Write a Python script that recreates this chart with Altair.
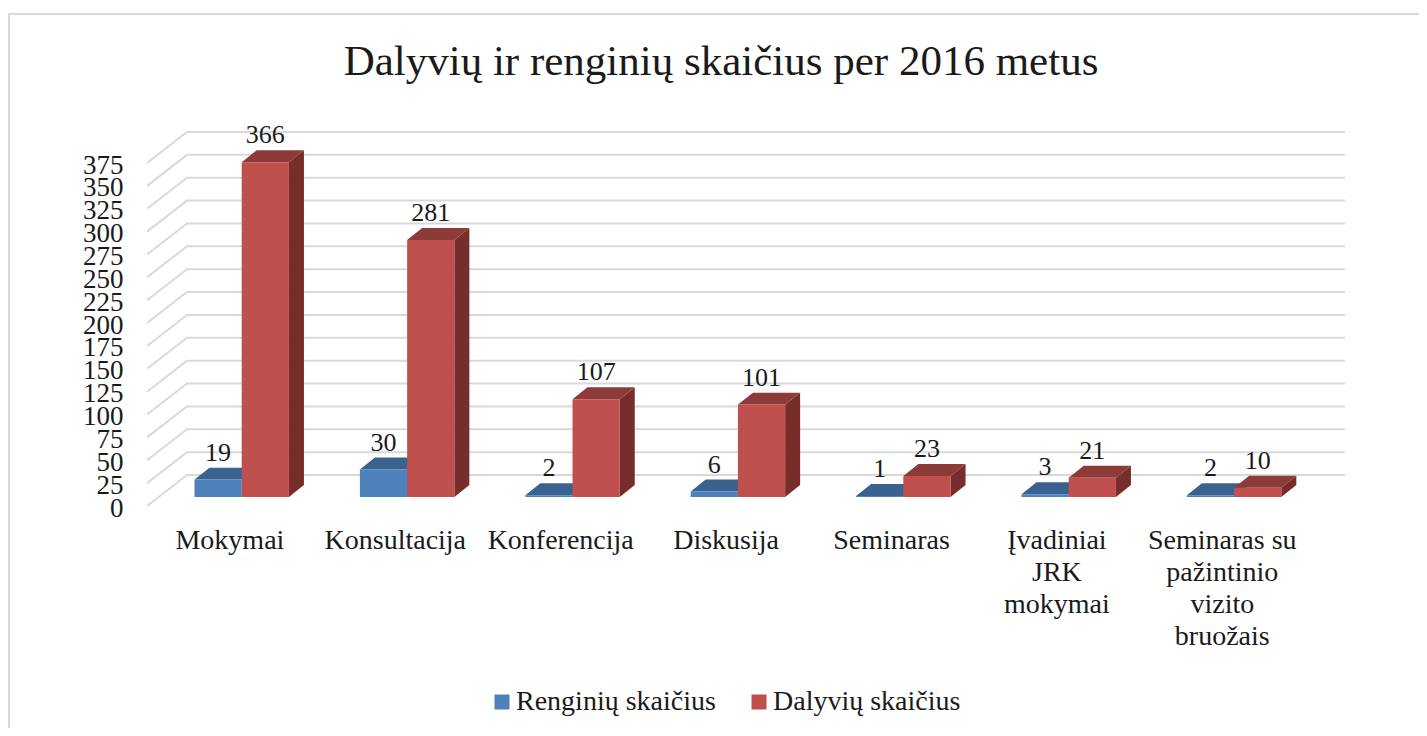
import json
import altair as alt
import pandas as pd

categories = ["Mokymai", "Konsultacija", "Konferencija", "Diskusija", "Seminaras",
              "Įvadiniai\nJRK\nmokymai", "Seminaras su\npažintinio\nvizito\nbruožais"]
renginiu = [19, 30, 2, 6, 1, 3, 2]
dalyviu = [366, 281, 107, 101, 23, 21, 10]
series_names = ["Renginių skaičius", "Dalyvių skaičius"]
y_ticks = list(range(0, 376, 25))
FONT = "Liberation Serif"
FS = 26
GRID = "#d9d9d9"
INK = "#1a1a1a"

# 3-D projection, in axis units
BAR_W = 0.2855      # category units
DEPTH_X = 0.0907    # bar depth, category units
DEPTH_Y = 13.1      # bar depth, value units
BASE = 9.84         # bar floor above the front axis plane
WALL_X = 0.2418     # back wall shift, category units
WALL_Y = 33.9       # back wall shift, value units
X_MIN, X_MAX = -0.2872, 6.9559
LABEL_U = 0.211

x_scale = alt.Scale(domain=[X_MIN, X_MAX], nice=False, zero=False)
y_scale = alt.Scale(domain=[0, 375], nice=False, zero=False)

rows = []
for s, vals in enumerate([renginiu, dalyviu]):
    for i, v in enumerate(vals):
        x0 = i + s * BAR_W
        rows.append(dict(key=f"{s}-{i}", series=series_names[s], s=s, v=v, x0=x0, x1=x0 + BAR_W,
                         xc=x0 + BAR_W / 2, top=BASE + v, base=BASE, back=BASE + v + DEPTH_Y))
bars = pd.DataFrame(rows)

side = []
top = []
for r in rows:
    side.append(dict(key=r["key"], s=r["s"], x=r["x1"], y=r["top"], y2=r["base"]))
    side.append(dict(key=r["key"], s=r["s"], x=r["x1"] + DEPTH_X, y=r["top"] + DEPTH_Y, y2=r["base"] + DEPTH_Y))
    top.append(dict(key=r["key"], s=r["s"], y=r["top"], x=r["x0"], x2=r["x1"]))
    top.append(dict(key=r["key"], s=r["s"], y=r["top"] + DEPTH_Y, x=r["x0"] + DEPTH_X, x2=r["x1"] + DEPTH_X))
side = pd.DataFrame(side)
top = pd.DataFrame(top)

grid = []
for t in y_ticks:
    grid += [dict(t=t, x=X_MIN, y=t, o=0), dict(t=t, x=X_MIN + WALL_X, y=t + WALL_Y, o=1), dict(t=t, x=X_MAX, y=t + WALL_Y, o=2)]
grid = pd.DataFrame(grid)

label_expr = "split(" + json.dumps(categories, ensure_ascii=False) + f"[round(datum.value-{LABEL_U})], '\\n')"

x_axis = alt.Axis(
    values=[i + LABEL_U for i in range(len(categories))], labelExpr=label_expr, domain=False, ticks=False, grid=False,
    labelFont=FONT, labelFontSize=28, labelColor=INK, labelPadding=20, labelLimit=400, labelOverlap=False,
    labelLineHeight=32, labelBaseline="top", labelFlush=False, title=None)
y_axis = alt.Axis(
    values=y_ticks, domain=False, ticks=False, grid=False, labelFont=FONT, labelFontSize=27, labelColor=INK,
    labelPadding=24, labelOverlap=False, labelFlush=False, labelOffset=2, title=None)

X = lambda f="x": alt.X(f"{f}:Q", scale=x_scale, axis=x_axis)
Y = lambda f="y": alt.Y(f"{f}:Q", scale=y_scale, axis=y_axis, stack=None)

grid_layer = alt.Chart(grid).mark_line(color=GRID, strokeWidth=2).encode(
    x=X(), y=Y(), detail="t:N", order="o:Q")


def faces(s, side_col, top_col):
    side_l = alt.Chart(side[side.s == s]).mark_area(color=side_col, orient="vertical").encode(
        x=X(), y=Y(), y2="y2:Q", detail="key:N")
    top_l = alt.Chart(top[top.s == s]).mark_area(color=top_col, orient="horizontal").encode(
        y=Y(), x=X(), x2="x2:Q", detail="key:N")
    front = alt.Chart(bars[bars.s == s]).mark_rect().encode(
        x=X("x0"), x2="x1:Q", y=Y("top"), y2="base:Q",
        color=alt.Color("series:N", scale=alt.Scale(domain=series_names, range=["#4f81bd", "#c0504d"]),
                        legend=alt.Legend(title=None, orient="none", direction="horizontal",
                                          legendX=341, legendY=525, symbolType="square", symbolSize=225,
                                          labelFont=FONT, labelFontSize=28, labelColor=INK, labelLimit=400,
                                          symbolStrokeWidth=0, columnPadding=29, labelOffset=0)))
    return [side_l, top_l, front]


labels = alt.Chart(bars).mark_text(font=FONT, fontSize=FS, color=INK, baseline="middle", dy=-15).encode(
    x=X("xc"), y=Y("back"), text="v:Q")

top_edge = alt.Chart(pd.DataFrame({"a": [0]})).mark_rule(color=GRID, strokeWidth=2).encode(
    x=alt.value(-139), x2=alt.value(1272), y=alt.value(-149))
left_edge = alt.Chart(pd.DataFrame({"a": [0]})).mark_rule(color=GRID, strokeWidth=2).encode(
    x=alt.value(-138), y=alt.value(-149), y2=alt.value(565))

chart = alt.layer(
    top_edge, left_edge, grid_layer,
    *faces(0, "#3a628f", "#3a628f"),
    *faces(1, "#772d2b", "#8c3b39"),
    labels,
).properties(
    width=1198, height=343,
    padding={"left": 139, "top": 155, "right": 74, "bottom": 222},
    autosize=alt.AutoSizeParams(type="none", contains="content"),
    title=alt.TitleParams("Dalyvių ir renginių skaičius per 2016 metus", font=FONT, fontSize=43, fontWeight="normal",
                          color=INK, anchor="middle", dx=-25, offset=0, dy=71),
).configure_view(stroke=None)

chart.save("out.html", embed_options={"renderer": "svg", "actions": False})
